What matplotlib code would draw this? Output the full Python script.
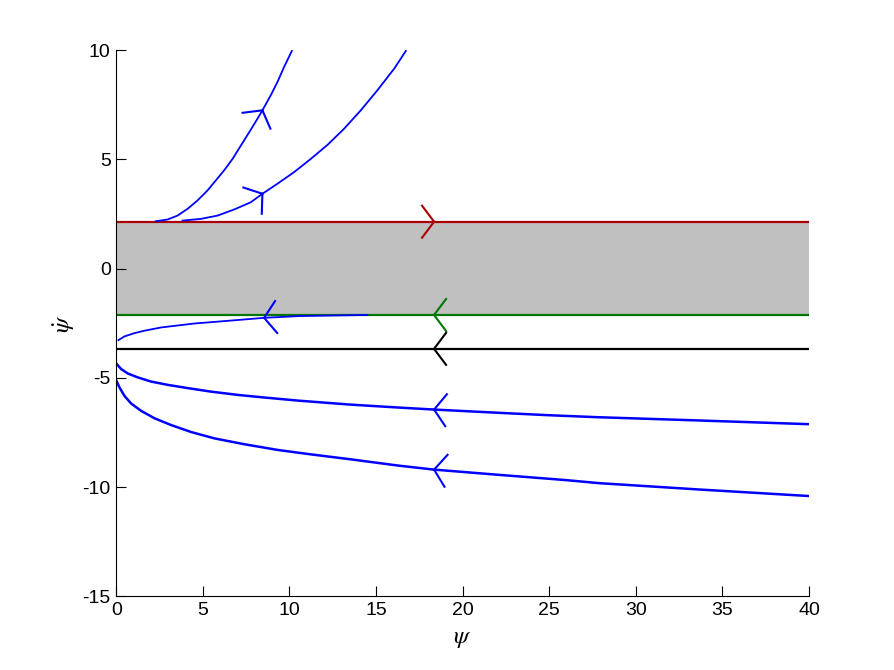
import matplotlib.pyplot as plt
import numpy as np

plt.rcParams['font.family'] = ['Liberation Sans', 'DejaVu Sans']
plt.rcParams['mathtext.fontset'] = 'stix'
plt.rcParams['axes.unicode_minus'] = False

# band boundaries and the two horizontal lines
upper_y = 2.15
lower_y = -2.12
black_y = -3.67

# trajectories leaving the band upwards
c1_x = [2.29, 2.96, 3.54, 4.12, 4.69, 5.27, 5.75, 6.23, 6.72, 7.20, 7.68, 8.16,
        8.44, 8.93, 9.31, 9.70, 10.14]
c1_y = [2.17, 2.25, 2.43, 2.74, 3.12, 3.58, 4.04, 4.50, 5.03, 5.64, 6.25, 6.87,
        7.25, 7.95, 8.55, 9.25, 9.97]
c2_x = [3.83, 4.89, 5.85, 6.81, 7.77, 8.44, 9.31, 10.27, 11.24, 12.20, 13.16,
        14.12, 15.08, 16.05, 16.72]
c2_y = [2.20, 2.28, 2.43, 2.71, 3.04, 3.43, 3.89, 4.42, 5.03, 5.67, 6.41,
        7.25, 8.17, 9.16, 9.97]

# trajectories below the band
c3_x = [0.13, 0.48, 1.06, 1.63, 2.60, 3.56, 4.52, 5.48, 7.02, 8.54, 10.56, 14.5]
c3_y = [-3.27, -3.10, -2.95, -2.84, -2.69, -2.60, -2.51, -2.45, -2.35, -2.25,
        -2.17, -2.12]
c4_x = [0.0, 0.29, 0.67, 1.25, 2.02, 2.98, 4.14, 5.48, 7.02, 8.56, 10.49, 13.45,
        16.33, 18.35, 22.1, 24.99, 27.78, 33.65, 40.0]
c4_y = [-4.34, -4.60, -4.80, -4.98, -5.17, -5.32, -5.47, -5.63, -5.78, -5.90,
        -6.04, -6.22, -6.36, -6.45, -6.60, -6.71, -6.80, -6.95, -7.12]
c5_x = [0.0, 0.19, 0.48, 0.87, 1.44, 2.21, 3.17, 4.33, 5.67, 7.41, 9.33, 11.22,
        13.45, 16.33, 18.35, 22.1, 25.96, 27.88, 33.65, 40.0]
c5_y = [-5.11, -5.44, -5.83, -6.18, -6.51, -6.85, -7.16, -7.48, -7.77, -8.04,
        -8.30, -8.50, -8.72, -9.02, -9.20, -9.44, -9.68, -9.82, -10.11, -10.41]

fig = plt.figure(figsize=(8.94, 6.70), dpi=100)
ax = fig.add_axes([0.13, 0.11, 0.775, 0.815])
ax.set_xlim(0, 40)
ax.set_ylim(-15, 10)

ax.fill_between([0, 40], lower_y, upper_y, color='#c0c0c0', lw=0)
ax.plot([0, 40], [upper_y, upper_y], color='#aa0000', lw=1.6)
ax.plot([0, 40], [lower_y, lower_y], color='#007700', lw=1.6)
ax.plot([0, 40], [black_y, black_y], color='k', lw=1.6)

ax.plot(c1_x, c1_y, color='#0000ff', lw=1.3)
ax.plot(c2_x, c2_y, color='#0000ff', lw=1.3)
ax.plot(c3_x, c3_y, color='#0000ff', lw=1.3)
ax.plot(c4_x, c4_y, color='#0000ff', lw=1.8)
ax.plot(c5_x, c5_y, color='#0000ff', lw=1.8)


def chevron(xs, ys, at, sign, color):
    # open arrow head drawn in pixel space along the curve direction
    xs = np.asarray(xs, float)
    ys = np.asarray(ys, float)
    h = 0.3
    yt = np.interp(at, xs, ys)
    p0 = ax.transData.transform((at - h, np.interp(at - h, xs, ys)))
    p1 = ax.transData.transform((at + h, np.interp(at + h, xs, ys)))
    tip = ax.transData.transform((at, yt))
    d = (p1 - p0) * sign
    d = d / np.hypot(*d)
    n = np.array([-d[1], d[0]])
    inv = ax.transData.inverted()
    for s in (1, -1):
        end = tip - 12 * d + s * 16 * n
        a = inv.transform(tip)
        b = inv.transform(end)
        ax.plot([a[0], b[0]], [a[1], b[1]], color=color, lw=1.5)


chevron(c1_x, c1_y, 8.44, 1, '#0000ff')
chevron(c2_x, c2_y, 8.44, 1, '#0000ff')
chevron([0, 40], [upper_y, upper_y], 18.35, 1, '#aa0000')
chevron([0, 40], [lower_y, lower_y], 18.35, -1, '#007700')
chevron([0, 40], [black_y, black_y], 18.35, -1, 'k')
chevron(c3_x, c3_y, 8.54, -1, '#0000ff')
chevron(c4_x, c4_y, 18.35, -1, '#0000ff')
chevron(c5_x, c5_y, 18.35, -1, '#0000ff')

ax.spines['top'].set_visible(False)
ax.spines['right'].set_visible(False)
ax.set_xticks(np.arange(0, 41, 5))
ax.set_yticks(np.arange(-15, 11, 5))
ax.tick_params(direction='in', length=7, labelsize=14, pad=4)
ax.set_xlabel(r'$\psi$', fontsize=18, labelpad=5)
ax.set_ylabel(r'$\dot{\psi}$', fontsize=18, labelpad=4)

fig.savefig('out.png', dpi=100)
